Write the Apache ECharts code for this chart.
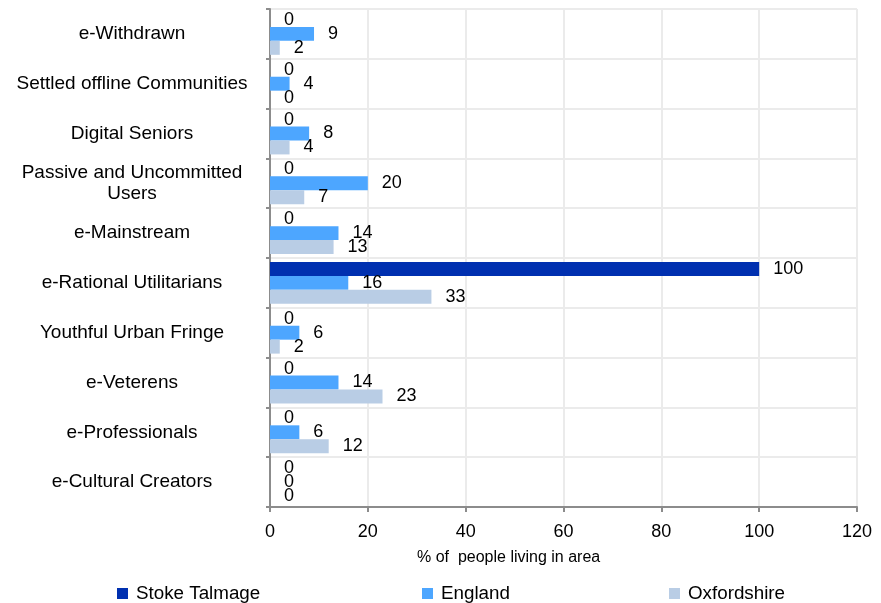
<!DOCTYPE html>
<html>
<head>
<meta charset="utf-8">
<script src="https://cdn.jsdelivr.net/npm/echarts@6/dist/echarts.min.js"></script>
<style>
html,body{margin:0;padding:0;background:#fff;}
#chart{width:881px;height:603px;}
</style>
</head>
<body>
<div id="chart"></div>
<script>
const categories = [
  'e-Withdrawn',
  'Settled offline Communities',
  'Digital Seniors',
  'Passive and Uncommitted\nUsers',
  'e-Mainstream',
  'e-Rational Utilitarians',
  'Youthful Urban Fringe',
  'e-Veterens',
  'e-Professionals',
  'e-Cultural Creators'
];
const seriesNames = ['Stoke Talmage', 'England', 'Oxfordshire'];
const stokeTalmage = [0, 0, 0, 0, 0, 100, 0, 0, 0, 0];
const england = [9, 4, 8, 20, 14, 16, 6, 14, 6, 0];
const oxfordshire = [2, 0, 4, 7, 13, 33, 2, 23, 12, 0];
const xTicks = [0, 20, 40, 60, 80, 100, 120];
const axisTitle = '% of  people living in area';

const colors = ['#0030B0', '#4DA6FF', '#B9CDE5'];
const font = 'Liberation Sans, Arial, sans-serif';

const chart = echarts.init(document.getElementById('chart'), null, {renderer: 'canvas'});

function mkSeries(name, data, color) {
  return {
    name: name,
    type: 'bar',
    data: data,
    barGap: '0%',
    barCategoryGap: '16%',
    itemStyle: {color: color},
    label: {
      show: true,
      position: 'right',
      distance: 14,
      color: '#000',
      fontSize: 18,
      fontFamily: font
    },
    animation: false
  };
}

const option = {
  animation: false,
  grid: {left: 270, right: 24, top: 9, bottom: 96, containLabel: false, outerBoundsMode: 'none'},
  xAxis: {
    type: 'value',
    min: xTicks[0],
    max: xTicks[xTicks.length - 1],
    interval: xTicks[1] - xTicks[0],
    axisLine: {show: true, lineStyle: {color: '#8c8c8c', width: 2}},
    axisTick: {show: true, length: 5, lineStyle: {color: '#8c8c8c', width: 2}},
    axisLabel: {color: '#000', fontSize: 18, fontFamily: font, margin: 16},
    splitLine: {show: true, lineStyle: {color: '#ebebeb', width: 2}}
  },
  yAxis: {
    type: 'category',
    data: categories,
    inverse: true,
    axisLine: {show: true, lineStyle: {color: '#8c8c8c', width: 2}},
    axisTick: {show: true, length: 4, lineStyle: {color: '#8c8c8c', width: 2}},
    axisLabel: {color: '#000', fontSize: 19, fontFamily: font, align: 'center', margin: 138, lineHeight: 21, padding: [3, 0, 0, 0]},
    splitLine: {show: true, lineStyle: {color: '#ebebeb', width: 2}}
  },
  legend: seriesNames.map((n, i) => ({
    data: [n],
    left: [117, 422, 669][i],
    top: 584,
    padding: 0,
    icon: 'rect',
    itemWidth: 11,
    itemHeight: 11,
    textStyle: {color: '#000', fontSize: 18.8, fontFamily: font, padding: [0, 0, 0, 3]}
  })),
  graphic: [{
    type: 'text',
    left: 417,
    top: 550,
    style: {text: axisTitle, fill: '#000', fontSize: 16, fontFamily: font}
  }],
  series: [
    mkSeries(seriesNames[0], stokeTalmage, colors[0]),
    mkSeries(seriesNames[1], england, colors[1]),
    mkSeries(seriesNames[2], oxfordshire, colors[2])
  ]
};
chart.setOption(option);
</script>
</body>
</html>
